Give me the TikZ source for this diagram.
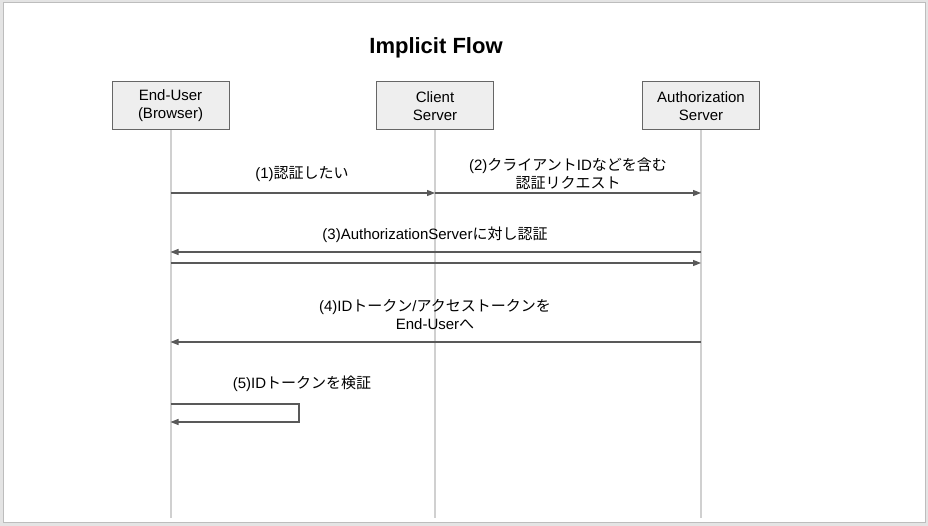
\documentclass[tikz,border=0pt]{standalone}
\usepackage{fontspec}
\setmainfont{Liberation Sans}
\newfontfamily\jp{Noto Sans CJK JP}
\usetikzlibrary{arrows.meta}
\definecolor{bgout}{HTML}{E4E4E4}
\definecolor{slideedge}{HTML}{BDBDBD}
\definecolor{boxfill}{HTML}{EEEEEE}
\definecolor{boxedge}{HTML}{666666}
\definecolor{lifec}{HTML}{D0D0D0}
\definecolor{msgc}{HTML}{595959}
\begin{document}
\begin{tikzpicture}[x=1pt,y=-1pt,
  actor/.style={draw=boxedge, fill=boxfill, line width=1pt, minimum width=117pt, minimum height=48pt, align=center, inner sep=0pt, font=\fontsize{15}{18}\selectfont},
  life/.style={draw=lifec, line width=2pt},
  msg/.style={draw=msgc, line width=1.1pt, -{Triangle[length=8pt,width=6pt]}},
  lbl/.style={align=center, inner sep=0pt, font=\fontsize{15}{18}\selectfont}]
\useasboundingbox (0,0) rectangle (928,526);
\fill[bgout] (0,0) rectangle (928,526);
\draw[slideedge, fill=white, line width=1pt] (3,3) rectangle (925,522);
\node[font=\fontsize{22}{26}\selectfont\bfseries] (title) at (436,48) {Implicit Flow};
% actors
\node[actor] (eu) at (170.5,106) {End-User\\(Browser)};
\node[actor] (cs) at (435,106) {Client\\Server};
\node[actor] (as) at (701,106) {Authorization\\Server};
% lifeline ends
\coordinate (eub) at (170.5,518);
\coordinate (csb) at (435,518);
\coordinate (asb) at (701,518);
\draw[life] (eu.south) -- (eub);
\draw[life] (cs.south) -- (csb);
\draw[life] (as.south) -- (asb);
% message points
\coordinate (e1) at (170.5,193); \coordinate (c1) at (435,193); \coordinate (a1) at (701,193);
\coordinate (e3) at (170.5,252); \coordinate (a3) at (701,252);
\coordinate (e3b) at (170.5,263); \coordinate (a3b) at (701,263);
\coordinate (e4) at (170.5,342); \coordinate (a4) at (701,342);
\coordinate (e5) at (170.5,404); \coordinate (s5a) at (299,404); \coordinate (s5b) at (299,422); \coordinate (e5b) at (170.5,422);
\draw[msg] (e1) -- (c1);
\draw[msg] (c1) -- (a1);
\draw[msg] (a3) -- (e3);
\draw[msg] (e3b) -- (a3b);
\draw[msg] (a4) -- (e4);
\draw[msg] (e5) -- (s5a) -- (s5b) -- (e5b);
% labels
\node[lbl] (l1) at (302,174) {(1){\jp 認証したい}};
\node[lbl] (l2) at (568,173.5) {(2){\jp クライアント}ID{\jp などを含む}\\{\jp 認証リクエスト}};
\node[lbl] (l3) at (435,235) {(3)AuthorizationServer{\jp に対し認証}};
\node[lbl] (l4) at (435,314.5) {(4)ID{\jp トークン}/{\jp アクセストークンを}\\End-User{\jp へ}};
\node[lbl] (l5) at (302,384) {(5)ID{\jp トークンを検証}};
\end{tikzpicture}
\end{document}
